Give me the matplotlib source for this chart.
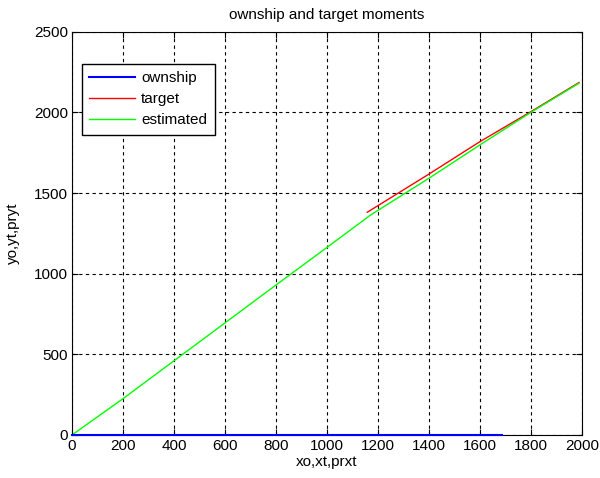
import matplotlib.pyplot as plt

plt.rcParams['font.family'] = ['Liberation Sans', 'DejaVu Sans']
plt.rcParams['font.size'] = 11

# ownship path (along the x axis)
xo = [0, 1688]
yo = [0, 0]

# target path
xt = [1158, 1400, 1600, 1800, 1988]
yt = [1381, 1618, 1819, 2005, 2185]

# estimated path
prxt = [0, 200, 400, 600, 800, 1000, 1170, 1400, 1600, 1800, 1988]
pryt = [0, 225, 460, 695, 930, 1163, 1363, 1592, 1799, 2001, 2181]

fig = plt.figure(figsize=(6, 4.78), dpi=100)
ax = fig.add_axes([0.12, 0.09, 0.85, 0.8435])

ax.plot(xo, yo, color='#0000ff', lw=1.5, label='ownship', clip_on=False, zorder=3)
ax.plot(xt, yt, color='#ff0000', lw=1, label='target')
ax.plot(prxt, pryt, color='#00ff00', lw=1, label='estimated')

ax.set_xlim(0, 2000)
ax.set_ylim(0, 2500)
ax.set_xticks(range(0, 2001, 200))
ax.set_yticks(range(0, 2501, 500))
ax.grid(True, color='black', linestyle=(0, (3, 3)), linewidth=0.8)
ax.tick_params(direction='in', top=True, right=True, length=4, pad=3)
for s in ax.spines.values():
    s.set_color('black')

ax.set_title('ownship and target moments', fontsize=11, pad=9)
ax.set_xlabel('xo,xt,prxt', labelpad=1)
ax.set_ylabel('yo,yt,pryt', labelpad=10)

leg = ax.legend(loc='upper left', bbox_to_anchor=(0.019, 0.921), borderaxespad=0,
                fancybox=False, edgecolor='black', framealpha=1, handlelength=3.0,
                borderpad=0.5, labelspacing=0.45, handletextpad=0.4)
leg.get_frame().set_linewidth(1)

fig.savefig('out.png', dpi=100, facecolor='white')
